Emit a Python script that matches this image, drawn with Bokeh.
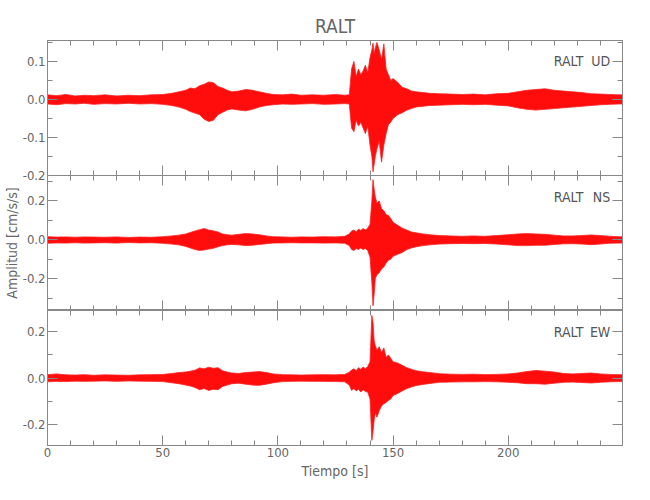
from bokeh.plotting import figure
from bokeh.layouts import column
from bokeh.models import Range1d, LinearAxis, SingleIntervalTicker, PrintfTickFormatter, Label
from bokeh.embed import file_html
from bokeh.resources import INLINE

# ---------------- data (envelope of each trace) ----------------
station = "RALT"
components = ["UD", "NS", "EW"]

time_s = [0, 4, 8, 12, 16, 20, 25, 30, 35, 40, 45, 50,
          54, 57, 60, 62, 64, 66, 68, 70, 72, 74, 76, 78, 80,
          83, 86, 89, 92, 95, 98,
          102, 106, 110, 115, 120, 125, 129,
          131, 132, 133, 134, 135, 136, 137, 138, 139, 140,
          140.8, 141.3, 141.8, 142.3,
          143, 144, 145, 146, 147, 148, 149, 150,
          152, 154, 156, 158, 160,
          163, 166, 170, 175, 180, 185, 190, 195,
          200, 204, 208, 212, 216, 220, 224, 228, 232, 236, 240, 244, 248, 250]

ud_upper = [.012, .010, .013, .009, .011, .010, .012, .009, .011, .010, .012, .013,
            .016, .020, .024, .030, .028, .036, .040, .046, .044, .034, .030, .024, .020,
            .022, .026, .024, .020, .016, .013,
            .012, .014, .011, .012, .011, .013, .011,
            .012, .080, .100, .060, .080, .065, .075, .090, .070, .110,
            .130, .148, .120, .135,
            .150, .130, .105, .146, .080, .065, .050, .055,
            .045, .032, .028, .022, .020,
            .018, .016, .015, .014, .013, .014, .012, .015,
            .016, .020, .024, .026, .028, .024, .022, .020, .018, .015, .014, .013, .012, .012]
ud_lower = [-.012, -.014, -.011, -.012, -.010, -.013, -.011, -.012, -.010, -.012, -.011, -.013,
            -.016, -.020, -.026, -.032, -.036, -.040, -.052, -.058, -.055, -.040, -.034, -.028, -.025,
            -.028, -.030, -.026, -.020, -.016, -.014,
            -.012, -.013, -.012, -.011, -.013, -.012, -.011,
            -.012, -.075, -.085, -.055, -.070, -.060, -.075, -.090, -.070, -.120,
            -.150, -.190, -.170, -.150,
            -.130, -.110, -.165, -.120, -.090, -.066, -.060, -.050,
            -.040, -.035, -.028, -.024, -.020,
            -.018, -.016, -.015, -.014, -.013, -.014, -.013, -.015,
            -.017, -.022, -.026, -.028, -.026, -.024, -.022, -.020, -.018, -.016, -.014, -.013, -.012, -.012]

ns_upper = [.016, .014, .015, .013, .015, .014, .013, .015, .012, .014, .013, .016,
            .020, .024, .030, .038, .045, .052, .058, .050, .046, .040, .030, .026, .024,
            .028, .032, .030, .026, .020, .016,
            .015, .013, .015, .014, .016, .015, .018,
            .030, .045, .050, .040, .055, .048, .058, .050, .060, .080,
            .200, .310, .260, .220,
            .190, .200, .160, .150, .130, .125, .110, .090,
            .075, .060, .050, .040, .036,
            .030, .026, .022, .020, .018, .020, .018, .022,
            .026, .030, .032, .030, .028, .024, .020, .020, .022, .025, .022, .018, .016, .016]
ns_lower = [-.018, -.016, -.017, -.015, -.017, -.016, -.015, -.017, -.014, -.016, -.015, -.018,
            -.022, -.026, -.034, -.042, -.050, -.055, -.052, -.048, -.044, -.036, -.030, -.026, -.024,
            -.026, -.030, -.028, -.024, -.020, -.017,
            -.016, -.015, -.016, -.016, -.017, -.016, -.018,
            -.030, -.050, -.055, -.045, -.050, -.042, -.050, -.045, -.055, -.090,
            -.220, -.340, -.280, -.200,
            -.180, -.170, -.150, -.140, -.120, -.105, -.100, -.085,
            -.075, -.065, -.050, -.042, -.036,
            -.030, -.026, -.022, -.020, -.019, -.020, -.019, -.022,
            -.026, -.030, -.030, -.028, -.028, -.024, -.021, -.020, -.022, -.025, -.022, -.018, -.017, -.017]

ew_upper = [.015, .018, .014, .013, .015, .012, .014, .013, .012, .014, .015, .016,
            .020, .024, .026, .030, .034, .044, .040, .047, .042, .045, .032, .026, .022,
            .020, .024, .026, .028, .024, .018,
            .015, .014, .013, .014, .015, .014, .016,
            .025, .035, .040, .032, .045, .038, .048, .040, .050, .070,
            .270, .240, .160, .140,
            .120, .135, .110, .130, .090, .100, .085, .070,
            .065, .055, .045, .038, .032,
            .027, .024, .019, .017, .016, .017, .015, .016,
            .018, .022, .028, .033, .030, .026, .020, .018, .020, .022, .018, .016, .015, .015]
ew_lower = [-.016, -.014, -.015, -.013, -.014, -.013, -.012, -.014, -.012, -.013, -.014, -.015,
            -.020, -.024, -.030, -.034, -.040, -.050, -.045, -.053, -.048, -.050, -.036, -.030, -.024,
            -.022, -.026, -.030, -.031, -.026, -.020,
            -.015, -.014, -.013, -.014, -.014, -.015, -.016,
            -.030, -.053, -.045, -.055, -.048, -.060, -.050, -.058, -.060, -.090,
            -.268, -.230, -.180, -.150,
            -.168, -.140, -.120, -.110, -.105, -.096, -.090, -.075,
            -.066, -.055, -.045, -.038, -.032,
            -.027, -.023, -.018, -.017, -.016, -.016, -.015, -.016,
            -.018, -.020, -.024, -.024, -.026, -.022, -.018, -.017, -.019, -.021, -.018, -.016, -.015, -.015]

x_ticks_interval = 50
# ---------------------------------------------------------------------------------------

FONT = "Liberation Sans Narrow, DejaVu Sans Condensed, Roboto Condensed, sans-serif"
GREY = "#888888"
TXT = "#666666"


def style_axis(ax, labels):
    ax.axis_line_color = GREY
    ax.major_tick_line_color = GREY
    ax.minor_tick_line_color = GREY
    ax.major_tick_in = 10
    ax.major_tick_out = 0
    ax.minor_tick_in = 5
    ax.minor_tick_out = 0
    if labels:
        ax.major_label_text_font = FONT
        ax.major_label_text_font_size = "13px"
        ax.major_label_text_color = TXT
        ax.major_label_standoff = 2
    else:
        ax.major_label_text_color = None
        ax.major_label_standoff = 0


def panel(yr, yint, upper, lower, comp, label_y, top=False, bottom=False, ylabel=None):
    p = figure(frame_width=575, frame_height=135,
               x_range=Range1d(0, 249.6), y_range=Range1d(*yr),
               output_backend="svg", toolbar_location=None,
               x_axis_location=None, y_axis_location=None,
               min_border_left=40, min_border_right=10,
               min_border_top=40 if top else 0, min_border_bottom=8 if top else 0,
               outline_line_color=GREY,
               background_fill_color=None if not top else "white",
               border_fill_color=None if not top else "white")
    p.grid.visible = False

    left = LinearAxis(ticker=SingleIntervalTicker(interval=yint, num_minor_ticks=2),
                      formatter=PrintfTickFormatter(format="%.1f"))
    style_axis(left, True)
    if ylabel:
        left.axis_label = ylabel
        left.axis_label_text_font = FONT
        left.axis_label_text_font_size = "14px"
        left.axis_label_text_font_style = "normal"
        left.axis_label_text_color = TXT
        left.axis_label_standoff = 0
    p.add_layout(left, "left")

    right = LinearAxis(ticker=SingleIntervalTicker(interval=yint, num_minor_ticks=2))
    style_axis(right, False)
    p.add_layout(right, "right")

    above = LinearAxis(ticker=SingleIntervalTicker(interval=x_ticks_interval, num_minor_ticks=5))
    style_axis(above, False)
    p.add_layout(above, "above")

    below = LinearAxis(ticker=SingleIntervalTicker(interval=x_ticks_interval, num_minor_ticks=5),
                       formatter=PrintfTickFormatter(format="%d"))
    style_axis(below, bottom)
    if bottom:
        below.axis_label = "Tiempo [s]"
        below.axis_label_text_font = FONT
        below.axis_label_text_font_size = "14px"
        below.axis_label_text_font_style = "normal"
        below.axis_label_text_color = TXT
        below.axis_label_standoff = 3
    p.add_layout(below, "below")

    p.varea(x=time_s, y1=lower, y2=upper, fill_color="#ff0000", fill_alpha=0.95)
    p.line(x=time_s, y=upper, line_color="#ff2020", line_width=0.8)
    p.line(x=time_s, y=lower, line_color="#ff2020", line_width=0.8)

    p.add_layout(Label(x=232.6, y=label_y, text=station, text_align="right",
                       text_baseline="middle", text_font=FONT, text_font_size="14px",
                       text_color="#555555"))
    p.add_layout(Label(x=244.3, y=label_y, text=comp, text_align="right",
                       text_baseline="middle", text_font=FONT, text_font_size="14px",
                       text_color="#555555"))

    if top:
        p.title.text = station
        p.title.align = "center"
        p.title.text_font = FONT
        p.title.text_font_size = "19px"
        p.title.text_font_style = "normal"
        p.title.text_color = TXT
        p.title.standoff = 8
    return p


p1 = panel((-0.2001, 0.155), 0.1, ud_upper, ud_lower, components[0], 0.10, top=True)
p2 = panel((-0.364, 0.331), 0.2, ns_upper, ns_lower, components[1], 0.22, ylabel="Amplitud [cm/s/s]")
p3 = panel((-0.29, 0.291), 0.2, ew_upper, ew_lower, components[2], 0.20, bottom=True)
p2.margin = (-8, 0, 0, 0)

layout = column(p1, p2, p3, spacing=0)
open("out.html", "w").write(file_html(layout, INLINE))
